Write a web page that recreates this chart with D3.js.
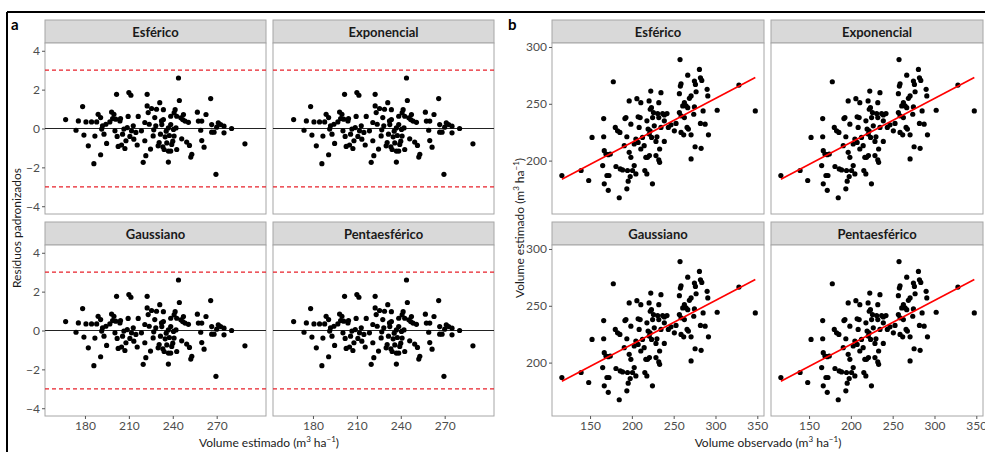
<!DOCTYPE html>
<html>
<head>
<meta charset="utf-8">
<script src="https://cdn.jsdelivr.net/npm/d3@7"></script>
<style>
  body { margin: 0; background: #fff; }
</style>
</head>
<body>
<div id="container"></div>
<script>
// facet names (same order in both blocks)
const models = ['Esférico', 'Exponencial', 'Gaussiano', 'Pentaesférico'];

// block a: [volume estimado, residuo padronizado]
const residuos = [
  [166.8,0.46],[173.9,-0.09],[175.5,0.39],[178.4,1.13],[179.3,-0.34],[180.7,0.34],[182.3,-0.89],
  [184.5,0.34],[186.1,-1.81],[186.8,-0.39],[188.0,0.34],[189.0,0.73],[190.7,0.56],[190.7,-1.35],
  [191.4,-0.03],[192.0,0.14],[193.0,-0.29],[194.3,0.22],[194.8,-0.77],[197.0,0.34],[198.2,0.85],
  [198.9,0.51],[199.8,0.73],[200.5,-0.12],[201.0,0.48],[201.6,1.76],[202.0,-0.41],[202.7,-0.92],
  [203.9,0.39],[204.3,0.51],[205.0,-0.85],[205.7,-0.29],[206.6,-0.03],[207.3,-1.03],[208.0,-0.63],
  [208.9,0.05],[209.5,0.62],[210.0,1.85],[210.7,-0.41],[211.4,1.71],[211.8,-0.12],[213.0,0.14],
  [213.4,-0.55],[214.8,-0.20],[215.7,-0.85],[216.4,0.62],[218.6,-0.12],[219.8,-1.74],[220.9,0.31],
  [220.9,-0.63],[221.6,-1.40],[222.5,1.76],[222.5,1.16],[223.2,0.82],[223.9,0.22],[224.8,-1.06],
  [225.5,1.03],[226.6,-0.38],[227.7,0.56],[228.4,0.14],[230.0,-0.89],[231.1,1.33],[231.6,-0.29],
  [228.9,0.99],[232.3,0.39],[227.0,-0.07],[230.7,-0.72],[232.5,0.20],
  [243.9,2.60],[244.5,1.44],[233.6,0.97],[241.6,0.97],[240.9,0.80],[242.7,0.63],[238.6,0.63],
  [245.5,0.55],[247.3,0.72],[248.4,0.38],[250.7,0.32],[246.8,0.46],[256.8,0.84],[257.5,0.38],
  [259.8,0.38],[262.7,0.72],[265.9,1.54],[259.1,-0.09],[266.6,0.20],[266.6,-0.19],[268.2,-0.19],
  [270.0,0.07],[271.1,0.29],[272.7,0.20],[275.0,0.12],[275.0,-0.22],[280.2,0.00],[289.3,-0.79],
  [269.5,-2.36],[259.8,-0.62],[261.4,-0.96],[249.5,-0.70],[251.4,-0.87],[253.0,-1.33],[252.3,-1.47],
  [246.1,-0.53],[242.7,-1.08],[237.0,-1.73],[237.0,-1.16],[238.6,-1.16],[239.3,-0.82],[235.9,-0.74],
  [240.0,-0.65],[240.9,-0.39],[237.7,-0.36],[234.8,-0.43],[240.5,-0.05],[237.0,0.03],[238.6,0.20],
  [242.2,0.03],[233.6,0.46],[235.5,-0.14],[233.2,-0.94],[234.1,-1.08]
];

// block b: [volume observado, volume estimado]
const observados = [
  [116.3,186.9],[139.3,191.3],[148.4,182.5],[152.4,220.4],[166.3,237.0],[166.3,221.0],[165.1,195.6],
  [167.0,179.6],[170.2,186.9],[171.8,173.8],[172.6,186.9],[167.0,208.7],[169.0,205.8],[171.8,205.2],
  [174.2,205.8],[177.8,269.4],[180.2,229.2],[182.9,226.2],[185.7,224.8],[181.0,194.8],[184.9,167.3],
  [186.1,192.7],[188.9,191.8],[190.9,213.1],[191.7,237.0],[192.9,237.9],[194.0,221.0],[194.8,191.3],
  [194.0,175.2],[195.6,181.9],[198.0,186.0],[200.8,191.3],[198.8,202.9],[196.8,207.3],[198.8,232.1],
  [196.8,252.5],[202.8,195.6],[204.8,188.3],[202.8,214.6],[204.8,219.0],[206.0,254.5],[207.5,238.5],
  [209.9,237.9],[210.7,251.0],[208.7,229.2],[212.7,220.4],[214.7,213.1],[215.5,191.3],[217.9,188.3],
  [220.6,252.5],[222.6,261.2],[224.6,179.6],[221.8,226.2],[219.4,227.7],[223.4,246.6],[225.8,242.3],
  [210.7,210.2],[207.5,216.0],[216.7,202.9],[218.7,202.9],[221.0,204.4],[222.0,245.2],[224.8,237.9],
  [218.0,235.0],[220.8,223.3],[223.6,220.4],
  [257.6,288.9],[266.8,275.2],[280.8,280.2],[282.0,272.9],[283.6,270.6],[274.8,270.0],[276.0,267.0],
  [258.8,267.6],[258.0,265.6],[276.8,260.6],[270.8,256.9],[268.8,254.8],[290.0,262.7],[290.8,256.9],
  [256.8,258.9],[262.8,251.0],[264.8,248.1],[266.8,246.6],[260.8,248.1],[274.8,247.2],[274.0,240.8],
  [285.2,243.7],[302.0,244.3],[328.0,266.5],[347.6,243.7],[256.8,242.3],[258.8,239.4],[262.8,237.9],
  [282.0,232.7],[287.6,232.1],[291.6,222.7],[266.0,229.2],[267.6,227.7],[258.8,224.8],[262.0,222.7],
  [270.8,222.7],[275.6,212.2],[282.8,210.8],[270.8,201.5],[250.8,226.2],[252.8,232.7],[246.8,231.5],
  [243.6,229.2],[242.0,241.4],[238.8,240.2],[236.8,241.4],[234.8,259.8],[232.2,237.9],[238.8,235.0],
  [234.8,229.2],[238.8,216.9],[233.2,210.2],[232.2,200.6],[233.2,198.5],[230.0,221.0],[228.8,216.9],
  [230.8,241.4],[232.2,251.0],[226.8,230.6],[228.8,204.4]
];

const limites = [-3, 3];
const ticksEst = [180, 210, 240, 270];
const ticksRes = [-4, -2, 0, 2, 4];
const ticksObs = [150, 200, 250, 300, 350];
const ticksEstB = [200, 250, 300];

let w = 985,
    h = 452;

let viz = d3.select('#container')
    .append('svg')
      .attr('width', w)
      .attr('height', h)
      .style('font-family', 'Lato, "Open Sans", sans-serif')
      .style('background', '#fff');

// outer frame (top and left edges visible in the figure)
viz.append('line').attr('x1', 7).attr('x2', w).attr('y1', 12).attr('y2', 12)
    .attr('stroke', '#000').attr('stroke-width', 2);
viz.append('line').attr('x1', 7).attr('x2', 7).attr('y1', 12).attr('y2', h)
    .attr('stroke', '#000').attr('stroke-width', 2);

let stripH = 23,
    panelH = 171,
    rowTop = [20, 222];

function supTitle(sel, label) {
    sel.append('tspan').text(label + ' (m');
    sel.append('tspan').attr('dy', -5).attr('font-size', 8).text('3');
    sel.append('tspan').attr('dy', 5).text(' ha');
    sel.append('tspan').attr('dy', -5).attr('font-size', 8).text('−1');
    sel.append('tspan').attr('dy', 5).text(')');
}

function drawBlock(cfg) {
    let x = d3.scaleLinear().domain(cfg.xDomain).range([0, cfg.panelW]);
    let y = d3.scaleLinear().domain(cfg.yDomain).range([panelH, 0]);

    models.forEach(function(name, i) {
        let col = i % 2, row = Math.floor(i / 2);
        let g = viz.append('g')
            .attr('transform', 'translate(' + cfg.cols[col] + ',' + rowTop[row] + ')');

        g.append('rect')
            .attr('width', cfg.panelW).attr('height', stripH)
            .attr('fill', '#d9d9d9').attr('stroke', '#a6a6a6').attr('stroke-width', 1);
        g.append('text')
            .attr('x', cfg.panelW / 2).attr('y', stripH / 2 + 5)
            .attr('text-anchor', 'middle')
            .attr('font-size', 13).attr('font-weight', 'bold').attr('fill', '#1a1a1a')
            .text(name);

        let p = g.append('g').attr('transform', 'translate(0,' + stripH + ')');
        p.append('rect')
            .attr('width', cfg.panelW).attr('height', panelH)
            .attr('fill', '#fff').attr('stroke', '#a6a6a6').attr('stroke-width', 1);

        cfg.extras(p, x, y);

        p.selectAll('circle.pt')
            .data(cfg.data)
            .join('circle')
              .attr('class', 'pt')
              .attr('cx', d => x(d[0]))
              .attr('cy', d => y(d[1]))
              .attr('r', 2.6)
              .attr('fill', '#000');

        if (cfg.after) cfg.after(p, x, y);

        if (col === 0) {
            let ax = p.append('g').call(d3.axisLeft(y).tickValues(cfg.yTicks).tickSize(3).tickPadding(2));
            styleAxis(ax);
        }
        if (row === 1) {
            let ax = p.append('g').attr('transform', 'translate(0,' + panelH + ')')
                .call(d3.axisBottom(x).tickValues(cfg.xTicks).tickSize(3).tickPadding(2));
            styleAxis(ax);
        }
    });
}

function styleAxis(ax) {
    ax.select('.domain').remove();
    ax.selectAll('.tick line').attr('stroke', '#555');
    ax.selectAll('.tick text').attr('fill', '#4d4d4d').attr('font-size', 12)
        .style('font-family', 'Lato, "Open Sans", sans-serif');
}

// block a: standardized residuals
drawBlock({
    cols: [45, 273],
    panelW: 221,
    xDomain: [152.7, 303.7],
    yDomain: [-4.4, 4.4],
    xTicks: ticksEst,
    yTicks: ticksRes,
    data: residuos,
    extras: function(p, x, y) {
        p.selectAll('line.lim')
            .data(limites)
            .join('line')
              .attr('x1', 0).attr('x2', x.range()[1])
              .attr('y1', d => y(d)).attr('y2', d => y(d))
              .attr('stroke', '#e8202a').attr('stroke-width', 1.3)
              .attr('stroke-dasharray', '4,3');
        p.append('line')
            .attr('x1', 0).attr('x2', x.range()[1])
            .attr('y1', y(0)).attr('y2', y(0))
            .attr('stroke', '#222').attr('stroke-width', 1);
    }
});

// block b: observed vs estimated with least-squares line
let mx = d3.mean(observados, d => d[0]),
    my = d3.mean(observados, d => d[1]);
let slope = d3.sum(observados, d => (d[0] - mx) * (d[1] - my)) /
            d3.sum(observados, d => (d[0] - mx) * (d[0] - mx));
let inter = my - slope * mx;
let xr = d3.extent(observados, d => d[0]);

drawBlock({
    cols: [552, 771],
    panelW: 212,
    xDomain: [104.5, 358],
    yDomain: [153, 303.5],
    xTicks: ticksObs,
    yTicks: ticksEstB,
    data: observados,
    extras: function() {},
    after: function(p, x, y) {
        p.append('line')
            .attr('x1', x(xr[0])).attr('y1', y(inter + slope * xr[0]))
            .attr('x2', x(xr[1])).attr('y2', y(inter + slope * xr[1]))
            .attr('stroke', '#f00').attr('stroke-width', 1.6);
    }
});

// panel letters
viz.append('text').attr('x', 11).attr('y', 30).attr('font-size', 15).attr('font-weight', 'bold').text('a');
viz.append('text').attr('x', 508).attr('y', 30).attr('font-size', 15).attr('font-weight', 'bold').text('b');

// axis titles
let midY = (rowTop[0] + rowTop[1] + stripH + panelH) / 2 + 10;
viz.append('text')
    .attr('transform', 'translate(21,' + midY + ') rotate(-90)')
    .attr('text-anchor', 'middle').attr('font-size', 12).attr('fill', '#1a1a1a')
    .text('Resíduos padronizados');
viz.append('text')
    .attr('transform', 'translate(524,' + midY + ') rotate(-90)')
    .attr('text-anchor', 'middle').attr('font-size', 12).attr('fill', '#1a1a1a')
    .call(supTitle, 'Volume estimado');
viz.append('text')
    .attr('x', 269).attr('y', 447)
    .attr('text-anchor', 'middle').attr('font-size', 12).attr('fill', '#1a1a1a')
    .call(supTitle, 'Volume estimado');
viz.append('text')
    .attr('x', 768).attr('y', 447)
    .attr('text-anchor', 'middle').attr('font-size', 12).attr('fill', '#1a1a1a')
    .call(supTitle, 'Volume observado');
</script>
</body>
</html>
